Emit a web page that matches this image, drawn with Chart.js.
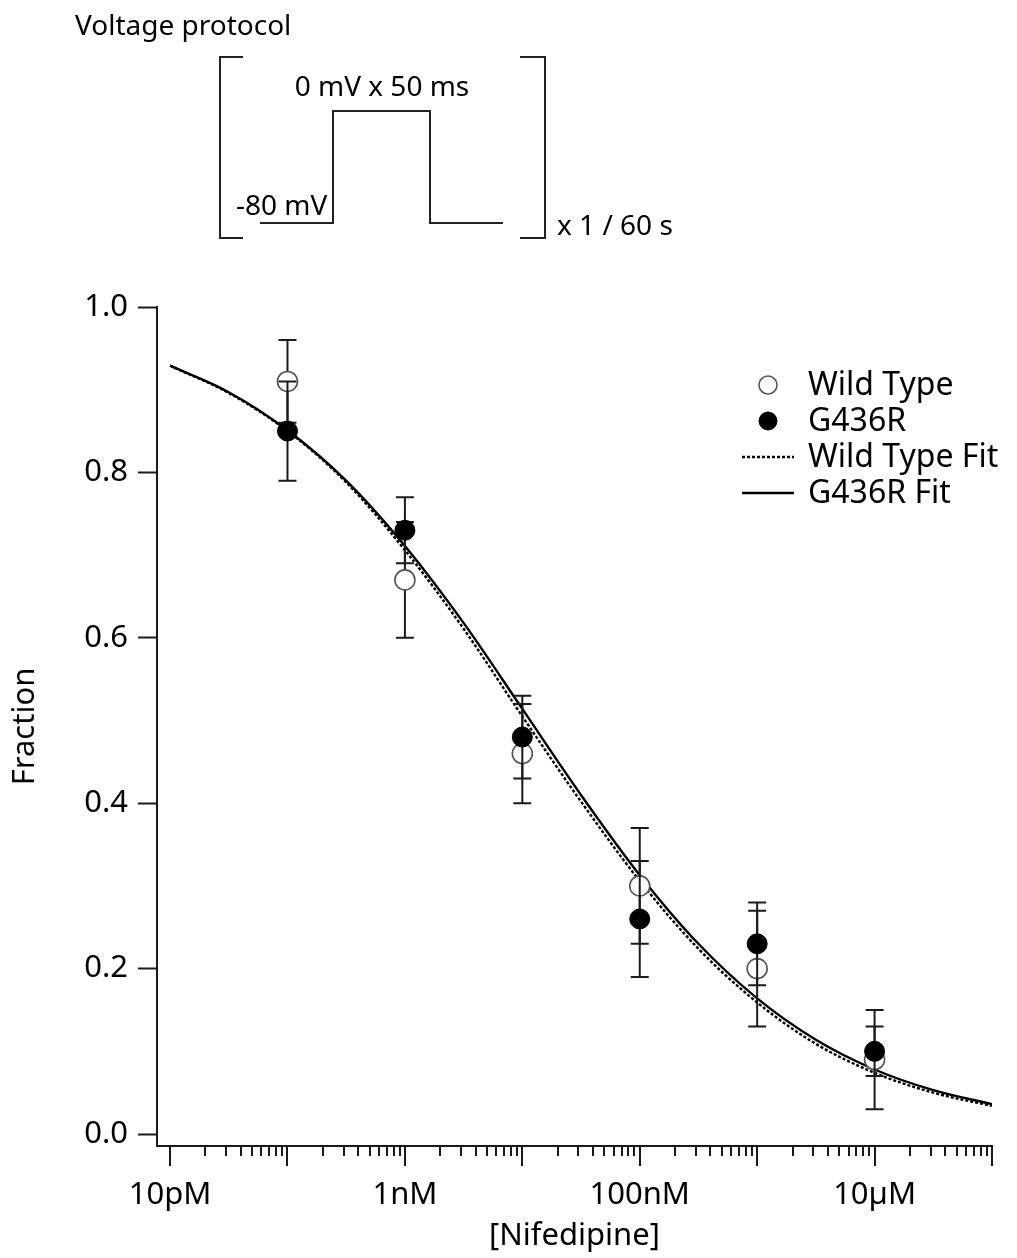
<!DOCTYPE html>
<html>
<head>
<meta charset="utf-8">
<title>Nifedipine dose response</title>
<script src="https://cdn.jsdelivr.net/npm/chart.js@4.4.1/dist/chart.umd.min.js"></script>
<style>
  html, body { margin: 0; padding: 0; background: #fff; }
  #wrap { position: relative; width: 1017px; height: 1258px; }
  #chart { position: absolute; left: 0; top: 0; }
  #protocol { position: absolute; left: 0; top: 0; pointer-events: none; }
  #protocol text { font-family: 'Noto Sans', 'Open Sans', sans-serif; font-size: 28px; fill: #000; }
  #protocol path { fill: none; stroke: #222; stroke-width: 2; }
</style>
</head>
<body>
<div id="wrap">
  <canvas id="chart" width="1017" height="1258"></canvas>
  <svg id="protocol" width="720" height="260" xmlns="http://www.w3.org/2000/svg">
    <text x="75" y="35">Voltage protocol</text>
    <path d="M243 57 H220 V238 H243"/>
    <path d="M520 57 H545 V238 H520"/>
    <path d="M260 223 H333 V111 H430 V223 H503"/>
    <text x="382" y="96" text-anchor="middle">0 mV x 50 ms</text>
    <text x="236" y="215">-80 mV</text>
    <text x="557" y="235">x 1 / 60 s</text>
  </svg>
</div>
<script>
// Nifedipine block, wild type vs G436R.

// measured concentrations (M)
var doses = [1e-10, 1e-9, 1e-8, 1e-7, 1e-6, 1e-5];
var wtMean = [0.91, 0.67, 0.46, 0.30, 0.20, 0.09];
var wtErr = [0.05, 0.07, 0.06, 0.07, 0.07, 0.06];
var mutMean = [0.85, 0.73, 0.48, 0.26, 0.23, 0.10];
var mutErr = [0.06, 0.04, 0.05, 0.07, 0.05, 0.03];

// fitted curves, read every half decade from 10pM to 100uM
var fitDoses = [1e-11, 3.16e-11, 1e-10, 3.16e-10, 1e-9, 3.16e-9, 1e-8, 3.16e-8,
  1e-7, 3.16e-7, 1e-6, 3.16e-6, 1e-5, 3.16e-5, 1e-4];
var wtFit = [0.929, 0.896, 0.850, 0.788, 0.706, 0.611, 0.505, 0.402,
  0.306, 0.224, 0.159, 0.109, 0.074, 0.050, 0.034];
var mutFit = [0.929, 0.897, 0.851, 0.790, 0.711, 0.618, 0.514, 0.410,
  0.313, 0.230, 0.164, 0.114, 0.078, 0.053, 0.036];

// axis labels
var xTickValues = [1e-11, 1e-9, 1e-7, 1e-5];
var xTickLabels = ['10pM', '1nM', '100nM', '10µM'];
var yTickValues = [0, 0.2, 0.4, 0.6, 0.8, 1.0];

var FONT = "'Noto Sans', 'Open Sans', sans-serif";
var INK = '#1a1a1a';

function pts(xs, ys) {
  return xs.map(function (x, i) { return { x: x, y: ys[i] }; });
}

// error bars go under each scatter dataset, right before its points
var errorBars = {
  id: 'errorBars',
  beforeDatasetDraw: function (chart, args) {
    var ds = chart.data.datasets[args.index];
    if (!ds.errors) return;
    var ctx = chart.ctx;
    var xs = chart.scales.x;
    var ys = chart.scales.y;
    ctx.save();
    ctx.strokeStyle = INK;
    ctx.lineWidth = 2;
    ds.data.forEach(function (p, i) {
      var e = ds.errors[i];
      var px = xs.getPixelForValue(p.x);
      var top = ys.getPixelForValue(p.y + e);
      var bot = ys.getPixelForValue(p.y - e);
      ctx.beginPath();
      ctx.moveTo(px, top); ctx.lineTo(px, bot);
      ctx.moveTo(px - 9, top); ctx.lineTo(px + 9, top);
      ctx.moveTo(px - 9, bot); ctx.lineTo(px + 9, bot);
      ctx.stroke();
    });
    ctx.restore();
  }
};

// decade + minor tick marks under the log axis
var logTicks = {
  id: 'logTicks',
  afterDraw: function (chart) {
    var xs = chart.scales.x;
    var y0 = chart.chartArea.bottom;
    var ctx = chart.ctx;
    ctx.save();
    ctx.strokeStyle = INK;
    ctx.lineWidth = 2;
    ctx.beginPath();
    for (var d = -11; d <= -4; d++) {
      for (var m = 1; m <= 9; m++) {
        if (d === -4 && m > 1) break;
        var px = Math.round(xs.getPixelForValue(m * Math.pow(10, d)));
        ctx.moveTo(px, y0);
        ctx.lineTo(px, y0 + (m === 1 ? 20 : 10));
      }
    }
    ctx.stroke();
    ctx.restore();
  }
};

// legend in the upper right of the plot
var legendBox = {
  id: 'legendBox',
  afterDraw: function (chart) {
    var ctx = chart.ctx;
    var order = [1, 0, 3, 2];
    var x0 = 768, y0 = 385, rowH = 36;
    ctx.save();
    ctx.font = '32px ' + FONT;
    ctx.textBaseline = 'middle';
    order.forEach(function (idx, row) {
      var ds = chart.data.datasets[idx];
      var y = y0 + row * rowH;
      if (ds.type === 'scatter') {
        ctx.beginPath();
        ctx.arc(x0, y, 9, 0, Math.PI * 2);
        ctx.fillStyle = ds.backgroundColor;
        ctx.fill();
        ctx.lineWidth = ds.borderWidth;
        ctx.strokeStyle = ds.borderColor;
        ctx.stroke();
      } else {
        ctx.beginPath();
        ctx.setLineDash(ds.borderDash || []);
        ctx.lineWidth = ds.borderWidth;
        ctx.strokeStyle = ds.borderColor;
        ctx.moveTo(742, y); ctx.lineTo(794, y);
        ctx.stroke();
        ctx.setLineDash([]);
      }
      ctx.fillStyle = '#000';
      ctx.fillText(ds.label, 808, y + 1);
    });
    ctx.restore();
  }
};

new Chart(document.getElementById('chart'), {
  data: {
    datasets: [
      {
        type: 'scatter',
        label: 'G436R',
        data: pts(doses, mutMean),
        errors: mutErr,
        pointRadius: 10,
        pointHoverRadius: 10,
        backgroundColor: '#000',
        borderColor: '#000',
        borderWidth: 1
      },
      {
        type: 'scatter',
        label: 'Wild Type',
        data: pts(doses, wtMean),
        errors: wtErr,
        pointRadius: 10,
        pointHoverRadius: 10,
        backgroundColor: '#fff',
        borderColor: '#555',
        borderWidth: 1.6
      },
      {
        type: 'line',
        label: 'G436R Fit',
        data: pts(fitDoses, mutFit),
        borderColor: '#000',
        borderWidth: 2.4,
        pointRadius: 0,
        cubicInterpolationMode: 'monotone',
        fill: false
      },
      {
        type: 'line',
        label: 'Wild Type Fit',
        data: pts(fitDoses, wtFit),
        borderColor: '#000',
        borderWidth: 2.4,
        borderDash: [3, 2],
        pointRadius: 0,
        cubicInterpolationMode: 'monotone',
        fill: false
      }
    ]
  },
  options: {
    responsive: false,
    animation: false,
    events: [],
    layout: { padding: { top: 307, right: 25, left: 0, bottom: 0 } },
    plugins: {
      legend: { display: false },
      tooltip: { enabled: false }
    },
    scales: {
      x: {
        type: 'logarithmic',
        position: 'bottom',
        min: 7.74e-12,
        max: 1e-4,
        afterFit: function (s) { s.height = 112; },
        afterBuildTicks: function (s) {
          s.ticks = xTickValues.map(function (v) { return { value: v }; });
        },
        ticks: {
          autoSkip: false,
          maxRotation: 0,
          padding: 31,
          color: '#000',
          font: { family: FONT, size: 31 },
          callback: function (v) {
            var i = xTickValues.indexOf(v);
            return i >= 0 ? xTickLabels[i] : '';
          }
        },
        grid: { drawOnChartArea: false, drawTicks: false },
        border: { display: true, color: INK, width: 2 },
        title: {
          display: true,
          text: '[Nifedipine]',
          color: '#000',
          font: { family: FONT, size: 31 },
          padding: { top: 0, bottom: 3 }
        }
      },
      y: {
        type: 'linear',
        position: 'left',
        min: -0.0145,
        max: 1.0,
        afterFit: function (s) { s.width = 157; },
        afterBuildTicks: function (s) {
          s.ticks = yTickValues.map(function (v) { return { value: v }; });
        },
        ticks: {
          padding: 10,
          color: '#000',
          font: { family: FONT, size: 31 },
          callback: function (v) { return Number(v).toFixed(1); }
        },
        grid: {
          drawOnChartArea: false,
          drawTicks: true,
          tickLength: 19,
          tickWidth: 2,
          tickColor: INK
        },
        border: { display: true, color: INK, width: 2 },
        title: {
          display: true,
          text: 'Fraction',
          color: '#000',
          font: { family: FONT, size: 31 },
          padding: { top: 7, bottom: 0 }
        }
      }
    }
  },
  plugins: [errorBars, logTicks, legendBox]
});
</script>
</body>
</html>
